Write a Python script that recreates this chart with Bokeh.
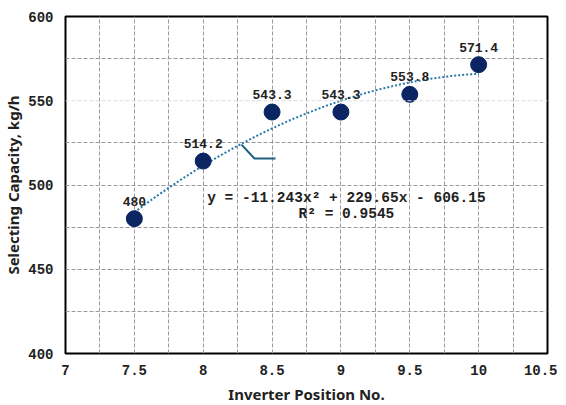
import numpy as np
from bokeh.plotting import figure
from bokeh.models import ColumnDataSource, FixedTicker, Range1d, Label, Span
from bokeh.core.properties import value
from bokeh.embed import file_html
from bokeh.resources import INLINE

# data
positions = [7.5, 8.0, 8.5, 9.0, 9.5, 10.0]
capacity = [480, 514.2, 543.3, 543.3, 553.8, 571.4]
labels = ["480", "514.2", "543.3", "543.3", "553.8", "571.4"]
coef = [-11.243, 229.65, -606.15]  # a, b, c
r2 = 0.9545
x_ticks = [7, 7.5, 8, 8.5, 9, 9.5, 10, 10.5]
y_ticks = [400, 450, 500, 550, 600]
x_grid = [7.25, 7.5, 7.75, 8, 8.25, 8.5, 8.75, 9, 9.25, 9.5, 9.75, 10, 10.25]
y_grid = [425, 450, 475, 500, 525, 575]
y_faint = 550
callout_x = [8.278, 8.372, 8.525]
callout_y = [524.0, 515.7, 515.7]

MONO = "Liberation Mono"

p = figure(frame_width=482, frame_height=337, output_backend="svg", toolbar_location=None,
           x_range=Range1d(7, 10.5), y_range=Range1d(400, 600),
           min_border_left=56, min_border_right=10, min_border_top=16, min_border_bottom=48)

p.outline_line_color = "black"
p.outline_line_width = 2
p.background_fill_color = "white"

for ax in (p.xaxis, p.yaxis):
    ax.axis_line_color = None
    ax.major_tick_line_color = None
    ax.minor_tick_line_color = None
    ax.major_tick_out = 0
    ax.major_tick_in = 0
    ax.major_label_text_font = MONO
    ax.major_label_text_font_style = "bold"
    ax.major_label_text_font_size = "14px"
    ax.major_label_text_color = "#222222"
    ax.axis_label_text_font = "Noto Sans"
    ax.axis_label_text_font_style = "bold"
    ax.axis_label_text_font_size = "15px"
    ax.axis_label_text_color = "#222222"

p.xaxis.ticker = FixedTicker(ticks=x_ticks)
p.yaxis.ticker = FixedTicker(ticks=y_ticks)
p.xaxis.major_label_standoff = 11
p.yaxis.major_label_standoff = 12
p.xaxis.axis_label = "Inverter Position No."
p.yaxis.axis_label = "Selecting Capacity, kg/h"
p.xaxis.axis_label_standoff = 6
p.yaxis.axis_label_standoff = 2

p.xgrid.ticker = FixedTicker(ticks=x_grid)
p.ygrid.ticker = FixedTicker(ticks=y_grid)
for g in (p.xgrid, p.ygrid):
    g.grid_line_color = "#9a9a9a"
    g.grid_line_dash = "4 2"
    g.grid_line_width = 1
p.add_layout(Span(location=y_faint, dimension="width", line_color="#dcdcdc",
                  line_dash="4 2", line_width=1))

# trendline
xt = np.linspace(min(positions), max(positions), 100)
yt = coef[0] * xt ** 2 + coef[1] * xt + coef[2]
p.line(xt, yt, line_color="#2a78a8", line_width=2, line_dash="2 2")

# callout
p.line(callout_x, callout_y, line_color="#1f5f80", line_width=2)

src = ColumnDataSource(dict(x=positions, y=capacity, t=labels))
p.scatter("x", "y", source=src, size=16, fill_color="#0a2562", line_color="#0a2562")
p.text("x", "y", text="t", source=src, y_offset=-13, text_align="center",
       text_baseline="bottom", text_font=value(MONO), text_font_style="bold",
       text_font_size="13px", text_color="#222222")

eq = f"y = {coef[0]}x² + {coef[1]}x - {abs(coef[2])}"
p.add_layout(Label(x=9.04, y=492.0, text=eq, text_align="center", text_baseline="middle",
                   text_font=MONO, text_font_style="bold", text_font_size="14.5px",
                   text_color="#222222"))
p.add_layout(Label(x=9.04, y=483.0, text=f"R² = {r2}", text_align="center", text_baseline="middle",
                   text_font=MONO, text_font_style="bold", text_font_size="14.5px",
                   text_color="#222222"))

open("out.html", "w").write(file_html(p, INLINE))
